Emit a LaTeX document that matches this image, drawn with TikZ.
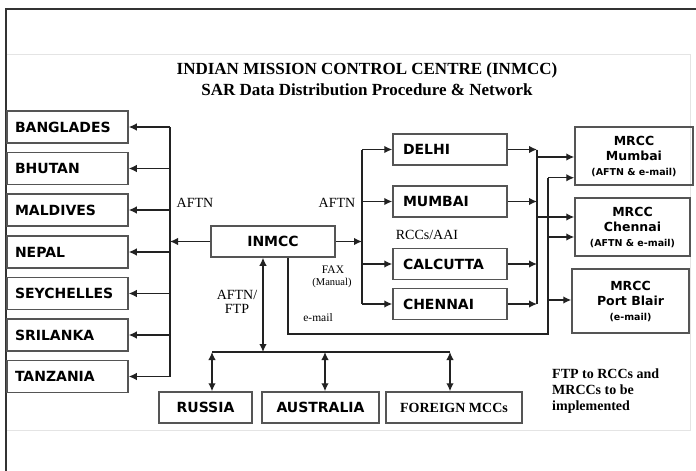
\documentclass[tikz,border=0pt]{standalone}
\usepackage{fontspec}
\setmainfont{Liberation Serif}
\newfontfamily\boxfont{DejaVu Sans}
\usetikzlibrary{arrows.meta,calc}
\definecolor{boxgray}{HTML}{555555}
\definecolor{conncol}{HTML}{222222}
\definecolor{framecol}{HTML}{333333}
\definecolor{faintcol}{HTML}{E4E4E4}
\begin{document}
\begin{tikzpicture}[x=1pt,y=-1pt,
  boxnode/.style={draw=boxgray, line width=1.5pt, minimum height=32pt, inner ysep=0pt,
    font=\boxfont\bfseries\fontsize{14}{16}\selectfont},
  lbox/.style={boxnode, inner xsep=8pt, text width=105pt, align=left},
  rbox/.style={boxnode, inner xsep=10pt, text width=94pt, align=left, minimum height=31pt},
  cbox/.style={boxnode, inner xsep=0pt, align=center},
  mbox/.style={draw=boxgray, line width=1.5pt, inner sep=0pt, align=center,
    font=\boxfont\bfseries\fontsize{12.5}{15}\selectfont},
  sbox/.style={draw=boxgray, line width=1.5pt, inner sep=0pt, minimum height=31pt,
    font=\bfseries\fontsize{14}{16}\selectfont},
  conn/.style={draw=conncol, line width=1.4pt},
  arr/.style={conn, -{Latex[length=8pt,width=7.5pt]}},
  darr/.style={conn, {Latex[length=8pt,width=7.5pt]}-{Latex[length=8pt,width=7.5pt]}},
  lbl/.style={inner sep=0pt, font=\fontsize{14}{16}\selectfont},
  slbl/.style={inner sep=0pt, font=\fontsize{11.5}{13}\selectfont},
  ttl/.style={inner sep=0pt, font=\bfseries\fontsize{17}{20}\selectfont}
]
\useasboundingbox (0,0) rectangle (696,471);
% frame
\draw[faintcol, line width=0.8pt] (6,54) rectangle (690,430);
\draw[framecol, line width=1.6pt] (696,9) -- (6,9) -- (6,471);

% title
\node[ttl] (t1) at (367,70) {INDIAN MISSION CONTROL CENTRE (INMCC)};
\node[ttl] (t2) at (367,90) {SAR Data Distribution Procedure \& Network};

% left countries
\node[lbox] (bang) at (67.5,127) {BANGLADES};
\node[lbox] (bhut) at (67.5,168.5) {BHUTAN};
\node[lbox] (mald) at (67.5,210) {MALDIVES};
\node[lbox] (nepa) at (67.5,252) {NEPAL};
\node[lbox] (seyc) at (67.5,293.5) {SEYCHELLES};
\node[lbox] (sril) at (67.5,335) {SRILANKA};
\node[lbox] (tanz) at (67.5,376.5) {TANZANIA};

% INMCC
\node[cbox, minimum width=124pt, minimum height=31pt] (inmcc) at (273,241.5) {INMCC};

% RCCs
\node[rbox] (delhi) at (450,149.5) {DELHI};
\node[rbox] (mumb) at (450,201.5) {MUMBAI};
\node[rbox] (calc) at (450,264) {CALCUTTA};
\node[rbox] (chen) at (450,304) {CHENNAI};

% MRCCs
\node[mbox, minimum width=118pt, minimum height=58pt] (mm) at (634,156)
  {MRCC\\Mumbai\\{\fontsize{9.5}{13}\selectfont(AFTN \& e-mail)}};
\node[mbox, minimum width=115pt, minimum height=58pt] (mc) at (632.5,227)
  {MRCC\\Chennai\\{\fontsize{9.5}{13}\selectfont(AFTN \& e-mail)}};
\node[mbox, minimum width=117pt, minimum height=64pt] (pb) at (630.5,301)
  {MRCC\\Port Blair\\{\fontsize{9.5}{13}\selectfont(e-mail)}};

% bottom boxes
\node[sbox, font=\boxfont\bfseries\fontsize{14}{16}\selectfont, minimum width=93pt] (rus) at (205.5,407.5) {RUSSIA};
\node[sbox, font=\boxfont\bfseries\fontsize{14}{16}\selectfont, minimum width=117pt] (aus) at (320.5,407.5) {AUSTRALIA};
\node[sbox, minimum width=136pt] (for) at (454,407.5) {FOREIGN MCCs};

% left bus
\coordinate (lb) at (170,0);
\draw[conn] (lb |- bang.east) -- (lb |- tanz.east);
\foreach \n in {bang,bhut,mald,nepa,seyc,sril,tanz}
  \draw[arr] (lb |- \n.east) -- (\n.east);
\draw[arr] (inmcc.west) -- (lb |- inmcc.west);

% RCC bus
\coordinate (rb) at (362,0);
\draw[arr] (inmcc.east) -- (rb |- inmcc.east);
\draw[conn] (rb |- delhi.west) -- (rb |- chen.west);
\foreach \n in {delhi,mumb,calc,chen}
  \draw[arr] (rb |- \n.west) -- (\n.west);

% output bus
\coordinate (ob) at (537,0);
\foreach \n in {delhi,mumb,calc,chen}
  \draw[arr] (\n.east) -- (ob |- \n.east);
\draw[conn] (ob |- delhi.east) -- (ob |- chen.east);
\coordinate (mm1) at ($(mm.west)+(0,1)$);
\coordinate (mm2) at ($(mm.south west)+(0,-8)$);
\coordinate (mc1) at ($(mc.west)+(0,-10)$);
\coordinate (mc2) at ($(mc.west)+(0,10)$);
\coordinate (pb1) at ($(pb.west)+(0,-1)$);
\draw[arr] (ob |- mm1) -- (mm1);
\draw[arr] (ob |- mc1) -- (mc1);

% e-mail route
\coordinate (ob2) at (548,0);
\coordinate (em) at (288,334);
\draw[conn] (em |- inmcc.south) -- (em) -- (ob2 |- em) -- (ob2 |- mm2);
\draw[arr] (ob2 |- mm2) -- (mm2);
\draw[arr] (ob2 |- mc2) -- (mc2);
\draw[arr] (ob2 |- pb1) -- (pb1);

% bottom bus
\coordinate (bb) at (263,352);
\coordinate (bL) at (212,352);
\coordinate (bA) at (325,352);
\coordinate (bR) at (450,352);
\draw[darr] (inmcc.south -| bb) -- (bb);
\draw[conn] (bL) -- (bR);
\draw[darr] (bL) -- (bL |- rus.north);
\draw[darr] (bA) -- (bA |- aus.north);
\draw[darr] (bR) -- (bR |- for.north);

% labels
\node[lbl] (l1) at (195,203) {AFTN};
\node[lbl] (l2) at (337,203) {AFTN};
\node[lbl] (l3) at (427,235) {RCCs/AAI};
\node[slbl] (l4) at (333,270) {FAX};
\node[slbl, font=\fontsize{10.5}{12}\selectfont] (l5) at (332,283) {(Manual)};
\node[slbl] (l6) at (318,318) {e-mail};
\node[lbl] (l7) at (237,295) {AFTN/};
\node[lbl] (l8) at (237,309) {FTP};
\node[inner sep=0pt, anchor=north west, align=left, font=\bfseries\fontsize{14}{16}\selectfont] (note) at (552,369)
  {FTP to RCCs and\\MRCCs to be\\implemented};
\end{tikzpicture}
\end{document}
